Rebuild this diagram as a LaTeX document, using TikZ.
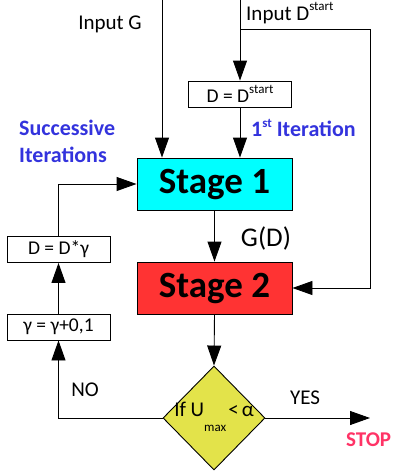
\documentclass[tikz,border=0pt]{standalone}
\usepackage{fontspec}
\setmainfont{Carlito}
\usetikzlibrary{shapes.geometric,arrows.meta}
\definecolor{cyanfill}{HTML}{00FFFF}
\definecolor{redfill}{HTML}{FF3333}
\definecolor{yelfill}{HTML}{E3E34A}
\definecolor{bluetxt}{HTML}{3333DD}
\definecolor{stoptxt}{HTML}{FF3366}
\tikzset{
  conn/.style={line width=0.9pt},
  arr/.style={conn,-{Triangle[length=20pt,width=14pt]}},
  stagebox/.style={draw,line width=0.9pt,minimum width=155pt,minimum height=52pt,inner sep=0pt,font=\fontsize{37}{42}\selectfont\bfseries},
  smallbox/.style={draw,line width=0.9pt,fill=white,minimum width=103pt,minimum height=26pt,inner sep=0pt,font=\fontsize{19.5}{22}\selectfont},
  lbl/.style={inner sep=0pt,font=\fontsize{21}{25}\selectfont},
  bluelbl/.style={inner sep=0pt,text=bluetxt,font=\fontsize{22}{27}\selectfont\bfseries},
}
\newcommand{\supr}[1]{\raisebox{0.45em}{\fontsize{13}{13}\selectfont #1}}
\begin{document}
\begin{tikzpicture}[x=1pt,y=-1pt]
\useasboundingbox (0,0) rectangle (392,474);
% nodes
\node[stagebox,fill=cyanfill] (stage1) at (214.5,184) {Stage 1};
\node[stagebox,fill=redfill] (stage2) at (214.5,288) {Stage 2};
\node[smallbox] (dstart) at (240,94) {D = D\supr{start}};
\node[smallbox] (dgam) at (58.5,249.5) {D = D*γ};
\node[smallbox] (gam) at (58.5,327) {γ = γ+0,1};
\node[diamond,draw,line width=0.9pt,fill=yelfill,minimum width=102pt,minimum height=104pt,inner sep=0pt] (dec) at (214,418) {};
\node[lbl,font=\fontsize{21}{24}\selectfont] (dectxt) at (214,417) {If U\raisebox{-0.7em}{\fontsize{13}{13}\selectfont max}\kern2pt<\kern3pt α};
% coordinates
\coordinate (gin) at (162,0);
\coordinate (din) at (240,0);
\coordinate (br) at (240,29);
\coordinate (rc) at (370,29);
\coordinate (stopc) at (370,418);
% connectors
\draw[arr] (gin) -- (gin |- stage1.north);
\draw[arr] (din) -- (dstart.north);
\draw[arr] (br) -- (rc) |- (stage2.east);
\draw[arr] (dstart.south) -- (dstart.south |- stage1.north);
\draw[arr] (stage1.south) -- (stage2.north);
\draw[arr] (stage2.south) -- (dec.north);
\draw[arr] (dec.west) -| (gam.south);
\draw[arr] (gam.north) -- (dgam.south);
\draw[arr] (dgam.north) |- (stage1.west);
\draw[arr] (dec.east) -- (stopc);
% labels
\node[lbl] (ling) at (110,24) {Input G};
\node[lbl,anchor=west] (lind) at (246,13) {Input D\supr{start}};
\node[bluelbl,anchor=west] (liter) at (251,128) {1\supr{\bfseries st} Iteration};
\node[bluelbl,anchor=west,align=left] (lsucc) at (19,141) {Successive\\Iterations};
\node[lbl,font=\fontsize{27}{30}\selectfont] (lgd) at (266,238) {G(D)};
\node[lbl] (lno) at (85,390) {NO};
\node[lbl] (lyes) at (305,398) {YES};
\node[lbl,anchor=west,text=stoptxt,font=\fontsize{21}{24}\selectfont\bfseries] (lstop) at (346,440) {STOP};
\end{tikzpicture}
\end{document}
